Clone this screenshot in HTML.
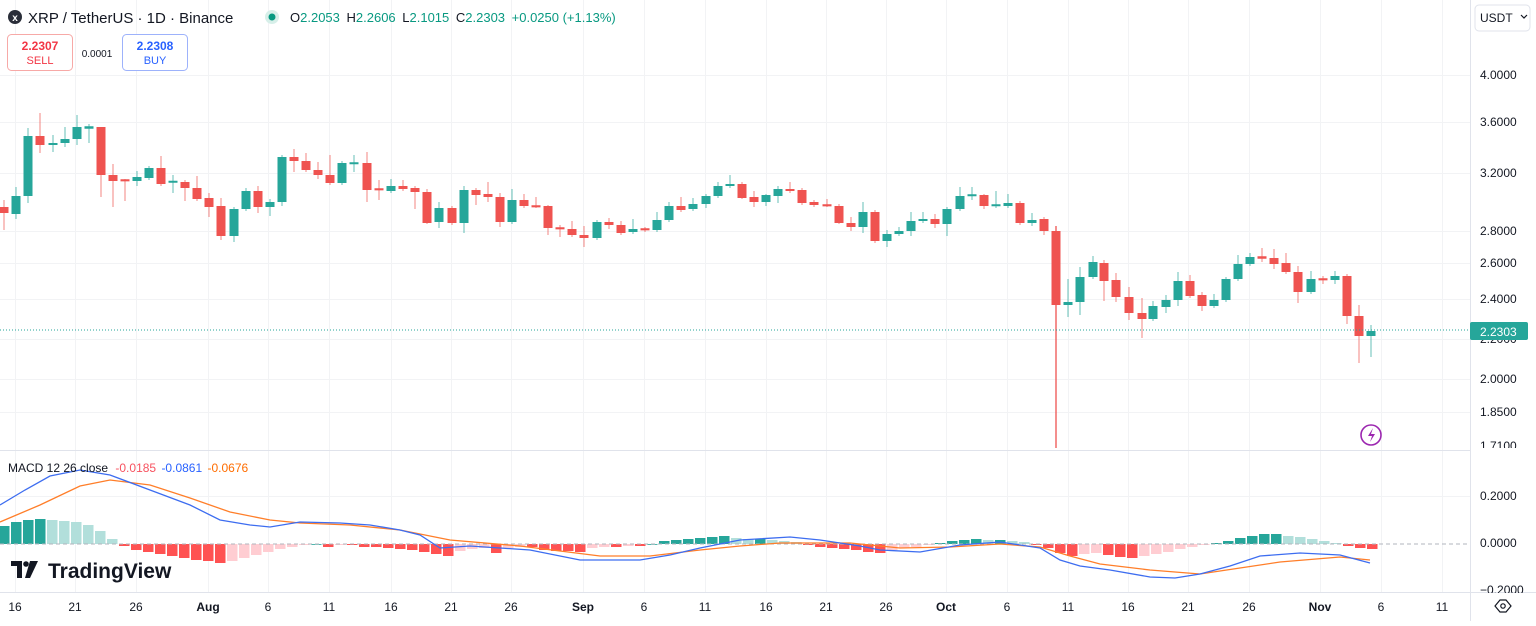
<!DOCTYPE html>
<html><head><meta charset="utf-8">
<style>
html,body{margin:0;padding:0;background:#fff;}
body{width:1536px;height:621px;overflow:hidden;font-family:"Liberation Sans",sans-serif;}
svg text{font-family:"Liberation Sans",sans-serif;}
</style></head>
<body>
<svg id="s" width="1536" height="621" viewBox="0 0 1536 621" xmlns="http://www.w3.org/2000/svg">
<rect width="1536" height="621" fill="#fff"/>
<g id="grid"></g>
<g id="hist"></g>
<line x1="0" y1="544" x2="1470" y2="544" stroke="#b2b5be" stroke-dasharray="4,3" stroke-width="1"/>
<polyline id="sig" fill="none" stroke="#ff7e29" stroke-width="1.3"/>
<polyline id="macd" fill="none" stroke="#3d6df0" stroke-width="1.3"/>
<g id="candles"></g>
<line x1="0" y1="330" x2="1470" y2="330" stroke="#26a69a" stroke-dasharray="1,2" stroke-width="1"/>
<line x1="0" y1="450.5" x2="1470" y2="450.5" stroke="#e0e3eb"/>
<line x1="1470.5" y1="0" x2="1470.5" y2="621" stroke="#e0e3eb"/>
<line x1="0" y1="592.5" x2="1536" y2="592.5" stroke="#e0e3eb"/>
<g font-size="12" fill="#131722" text-anchor="start">
<text x="1480" y="79">4.0000</text>
<text x="1480" y="126">3.6000</text>
<text x="1480" y="177">3.2000</text>
<text x="1480" y="235">2.8000</text>
<text x="1480" y="267">2.6000</text>
<text x="1480" y="303">2.4000</text>
<text x="1480" y="343">2.2000</text>
<text x="1480" y="383">2.0000</text>
<text x="1480" y="416">1.8500</text>
<text x="1480" y="450">1.7100</text>
<text x="1480" y="500">0.2000</text>
<text x="1480" y="547">0.0000</text>
<text x="1480" y="594">−0.2000</text>
</g>
<rect x="1471" y="448" width="65" height="2" fill="#fff"/>
<rect x="1470" y="322" width="58" height="18" rx="2" fill="#26a69a"/>
<text x="1480" y="336" font-size="12" fill="#fff">2.2303</text>
<rect x="1471" y="593" width="65" height="28" fill="#fff"/>
<rect x="1475" y="5" width="55" height="26" rx="4" fill="#fff" stroke="#e0e3eb"/>
<text x="1480" y="22" font-size="12" fill="#131722">USDT</text>
<path d="M1521 15 l3 3 l3 -3" fill="none" stroke="#131722" stroke-width="1.2"/>
<path d="M1495 606 l5 -6 h6 l5 6 l-5 6 h-6 z" fill="none" stroke="#131722" stroke-width="1.2"/>
<circle cx="1503" cy="606" r="2.2" fill="none" stroke="#131722" stroke-width="1.2"/>
<g font-size="12" fill="#131722" text-anchor="middle" id="dates"></g>
<circle cx="15" cy="17" r="7" fill="#2a2e39"/>
<text x="15" y="21" font-size="10" fill="#fff" text-anchor="middle" font-weight="bold">x</text>
<text x="28" y="23" font-size="15" fill="#131722">XRP / TetherUS · 1D · Binance</text>
<circle cx="272" cy="17" r="7" fill="#d7efe9"/>
<circle cx="272" cy="17" r="3.5" fill="#089981"/>
<text x="290" y="22" font-size="13" fill="#089981"><tspan fill="#131722">O</tspan>2.2053 <tspan fill="#131722" dx="3">H</tspan>2.2606 <tspan fill="#131722" dx="3">L</tspan>2.1015 <tspan fill="#131722" dx="3">C</tspan>2.2303 <tspan dx="3">+0.0250 (+1.13%)</tspan></text>
<rect x="7.5" y="34.5" width="65" height="36" rx="4" fill="#fff" stroke="#f7a9a7"/>
<text x="40" y="50" font-size="12" fill="#f23645" text-anchor="middle" font-weight="bold">2.2307</text>
<text x="40" y="64" font-size="11" fill="#f23645" text-anchor="middle">SELL</text>
<text x="97" y="57" font-size="10" fill="#131722" text-anchor="middle">0.0001</text>
<rect x="122.5" y="34.5" width="65" height="36" rx="4" fill="#fff" stroke="#9db2fb"/>
<text x="155" y="50" font-size="12" fill="#2962ff" text-anchor="middle" font-weight="bold">2.2308</text>
<text x="155" y="64" font-size="11" fill="#2962ff" text-anchor="middle">BUY</text>
<text x="8" y="472" font-size="12" fill="#131722">MACD 12 26 close <tspan fill="#f7525f" dx="4">-0.0185</tspan> <tspan fill="#2962ff" dx="2">-0.0861</tspan> <tspan fill="#ff6d00" dx="2">-0.0676</tspan></text>
<path d="M11 561 h11 v17 h-5 v-12 h-6 z" fill="#131722"/>
<circle cx="26" cy="564" r="2.8" fill="#131722"/>
<path d="M30 561 h8 l-8 17 h-5 z" fill="#131722"/>
<text x="48" y="578" font-size="21" font-weight="bold" fill="#131722">TradingView</text>
<circle cx="1371" cy="435" r="10" fill="#fff" stroke="#9c27b0" stroke-width="1.6"/>
<path d="M1373 428 l-5 8 h4 l-2 6 l5 -8 h-4 z" fill="#9c27b0"/>
</svg>
<script>
var NS="http://www.w3.org/2000/svg";
function el(t,a,p){var e=document.createElementNS(NS,t);for(var k in a)e.setAttribute(k,a[k]);document.getElementById(p).appendChild(e);return e;}
var vx=[15,75,136,208,268,329,391,451,511,583,644,705,766,826,886,946,1007,1068,1128,1188,1249,1320,1381,1442];
vx.forEach(function(x){el('line',{x1:x+.5,y1:0,x2:x+.5,y2:592,stroke:'#f2f3f5'},'grid');});
[75,122,173,231,263,299,339,379,412,496].forEach(function(y){el('line',{x1:0,y1:y+.5,x2:1470,y2:y+.5,stroke:'#f2f3f5'},'grid');});
var dl=["16","21","26","Aug","6","11","16","21","26","Sep","6","11","16","21","26","Oct","6","11","16","21","26","Nov","6","11"];
dl.forEach(function(t,i){var e=el('text',{x:vx[i],y:611},'dates');e.textContent=t;if(/[A-Z]/.test(t))e.setAttribute('font-weight','bold');});
var C=[[4,207,213,200,230],[16,214,196,187,219],[28,196,136,128,203],[40,136,145,113,153],[53,145,143,135,152],[65,143,139,127,147],[77,139,127,115,145],[89,128,127,124,143],[101,127,175,127,197],[113,175,181,164,207],[125,180,180.6,179,201],[137,181,177,171,186],[149,178,168,166,180],[161,168,184,156,186],[173,182,181.5,175,193],[185,182,188,180,201],[197,188,199,176,201],[209,198,207,193,217],[221,206,236,198,240],[234,236,209,207,242],[246,209,191,188,211],[258,191,207,186,213],[270,207,202,199,216],[282,202,157,155,206],[294,157,161,149,172],[306,161,170,153,172],[318,170,175,162,179],[330,175,183,155,185],[342,183,163,161,185],[354,163.5,163,155,172],[367,163,190,152,202],[379,189,189.6,180,200],[391,191,186,179,193],[403,186,189,180,191],[415,188,192,186,209],[427,192,223,189,224],[439,222,208,202,228],[452,208,223,206,225],[464,223,190,186,233],[476,190,195,188,205],[488,194,197,182,202],[500,197,222,193,227],[512,222,200,189,224],[524,200,206,194,208],[536,206,206.6,197,208],[548,206,228,205,235],[560,228,228.6,225,237],[572,229,235,221,237],[584,235,238,226,247],[597,238,222,220,240],[609,222,225,218,229],[621,225,233,221,235],[633,232,229,219,234],[645,229,229.6,227,232],[657,230,220,212,232],[669,220,206,202,222],[681,206,210,197,212],[693,209,204,198,211],[706,204,196,194,208],[718,196,186,182,198],[730,186,184,175,188],[742,184,198,182,199],[754,197,202,191,207],[766,202,195,194,206],[778,196,189,186,203],[790,189,191,182,193],[802,190,203,188,205],[814,202,205,200,207],[827,205,205.6,199,207],[839,206,223,204,224],[851,223,227,217,231],[863,227,212,202,233],[875,212,241,210,243],[887,241,234,230,247],[899,234,231,227,236],[911,231,221,212,236],[923,221,219,212,223],[935,219,224,214,228],[947,224,209,207,236],[960,209,196,187,211],[972,195.5,195,187,200],[984,195,206,194,209],[996,205.5,205,191,208],[1008,206,203,194,208],[1020,203,223,201,225],[1032,223,220,213,226],[1044,219,231,217,235],[1056,231,305,226,448],[1068,305,302,279,317],[1080,302,277,267,315],[1093,277,262,256,279],[1104,263,281,260,301],[1116,280,297,273,302],[1129,297,313,287,320],[1142,313,319,298,338],[1153,319,306,301,321],[1166,307,300,295,313],[1178,300,281,272,306],[1190,281,296,275,298],[1202,295,306,292,311],[1214,306,300,294,308],[1226,300,279,277,302],[1238,279,264,255,281],[1250,264,257,253,266],[1262,257,258,248,262],[1274,258,264,249,269],[1286,263,272,253,274],[1298,272,292,266,303],[1311,292,279,271,294],[1323,279,279.6,276,284],[1335,280,276,271,284],[1347,276,316,274,324],[1359,316,336,305,363],[1371,336,331,325,357]];
C.forEach(function(c){var x=c[0],o=c[1],cl=c[2],h=c[3],l=c[4];var up=cl<o;var col=up?'#26a69a':'#ef5350';var wc=up?'rgba(38,166,154,0.55)':'rgba(239,83,80,0.55)';
if(x===1056)wc='#ef5350';
el('line',{x1:x,y1:h,x2:x,y2:l,stroke:wc,'stroke-width':1.3},'candles');
var t=Math.min(o,cl),b=Math.max(o,cl);if(b-t<1.5){t-=0.75;b+=0.75;}
el('rect',{x:x-4.5,y:t,width:9,height:b-t,fill:col},'candles');});
var M=[[0,505],[25,490],[50,476],[80,470],[110,475],[150,490],[190,505],[220,520],[250,525],[270,527],[300,522],[340,523],[370,525],[400,530],[420,535],[440,548],[470,546],[500,548],[530,550],[580,560],[640,560],[670,555],[700,548],[740,540],[790,537],[820,540],[860,546],[880,550],[920,552],[960,545],[1000,542],[1040,548],[1060,560],[1080,566],[1110,570],[1150,577],[1175,578],[1200,574],[1230,566],[1260,556],[1300,553],[1340,555],[1370,563]];
var S=[[0,522],[40,505],[80,486],[110,480],[150,485],[190,498],[230,512],[270,520],[300,523],[350,525],[400,530],[450,540],[520,546],[560,551],[600,556],[650,556],[700,550],[740,546],[780,543],[850,543],[900,548],[950,547],[1000,544],[1040,547],[1070,556],[1100,564],[1150,570],[1200,574],[1240,568],[1280,562],[1340,557],[1370,560]];
function pl(P){return P.map(function(p){return p[0]+','+p[1];}).join(' ');}
document.getElementById('macd').setAttribute('points',pl(M));
document.getElementById('sig').setAttribute('points',pl(S));
var H=[[4,18],[16,22],[28,24],[40,25],[52,24],[64,23],[76,22],[88,19],[100,13],[112,5],[124,-2],[136,-6],[148,-8],[160,-10],[172,-12],[184,-14],[196,-16],[208,-17],[220,-19],[232,-17],[244,-14],[256,-11],[268,-8],[280,-5],[292,-3],[304,-1],[316,0],[328,-3],[340,-1],[352,-1],[364,-3],[376,-3],[388,-4],[400,-5],[412,-6],[424,-8],[436,-10],[448,-12],[460,-7],[472,-5],[484,-4],[496,-9],[508,-4],[520,-3],[532,-3],[544,-6],[556,-7],[568,-7],[580,-8],[592,-4],[604,-3],[616,-3],[628,-2],[640,-2],[652,0],[664,3],[676,4],[688,5],[700,6],[712,7],[724,8],[736,6],[748,5],[760,5],[772,4],[784,3],[796,2],[808,-1],[820,-3],[832,-4],[844,-5],[856,-6],[868,-8],[880,-9],[892,-6],[904,-4],[916,-3],[928,-1],[940,1],[952,3],[964,4],[976,5],[988,4],[1000,4],[1012,3],[1024,2],[1036,-1],[1048,-4],[1060,-9],[1072,-12],[1084,-10],[1096,-9],[1108,-11],[1120,-13],[1132,-14],[1144,-12],[1156,-10],[1168,-8],[1180,-5],[1192,-3],[1204,-1],[1216,1],[1228,3],[1240,6],[1252,8],[1264,10],[1276,10],[1288,8],[1300,7],[1312,5],[1324,3],[1336,1],[1348,-2],[1360,-4],[1372,-5]];
var prev=0;H.forEach(function(h){var v=h[1];var col;if(v>=0)col=(v>=prev)?'#26a69a':'#b2dfdb';else col=(v<=prev)?'#ff5252':'#ffcdd2';prev=v;
var y=v>=0?544-v:544;el('rect',{x:h[0]-5,y:y,width:10.5,height:Math.max(Math.abs(v),0.8),fill:col},'hist');});
</script>
</body></html>
